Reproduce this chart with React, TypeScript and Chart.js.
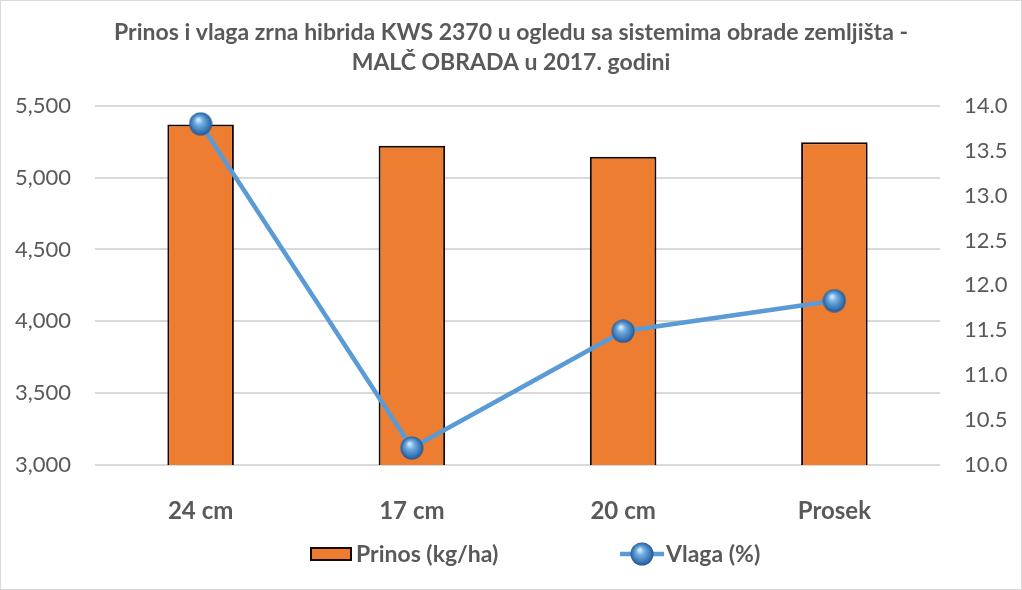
import { useEffect, useRef } from "react"
import { Chart, registerables } from "chart.js"

Chart.register(...registerables)

// data
const categories = ["24 cm", "17 cm", "20 cm", "Prosek"]
const prinosValues = [5370, 5222, 5145, 5246]
const vlagaValues = [13.8, 10.19, 11.49, 11.83]
const leftTicks = [3000, 3500, 4000, 4500, 5000, 5500]
const rightTicks = [10.0, 10.5, 11.0, 11.5, 12.0, 12.5, 13.0, 13.5, 14.0]

const titleLines = [
  "Prinos i vlaga zrna hibrida KWS 2370 u ogledu sa sistemima obrade zemljišta -",
  "MALČ OBRADA u 2017. godini",
]

const FONT = "Lato, 'Open Sans', sans-serif"
const TEXT = "#595959"
const BAR = "#ed7d31"
const BAR_EDGE = "#140800"
const LINE = "#5b9bd5"
const GRID = "#d9d9d9"

function makeSphere(d: number) {
  const c = document.createElement("canvas")
  c.width = d
  c.height = d
  const g = c.getContext("2d")!
  const r = d / 2
  const grad = g.createRadialGradient(r * 0.8, r * 0.65, r * 0.08, r, r, r)
  grad.addColorStop(0, "#cfe9fc")
  grad.addColorStop(0.3, "#6fade2")
  grad.addColorStop(0.75, "#3a76b4")
  grad.addColorStop(1, "#22508a")
  g.fillStyle = grad
  g.beginPath()
  g.arc(r, r, r - 0.5, 0, Math.PI * 2)
  g.fill()
  return c
}

// Excel-style legend drawn at the bottom
const legendPlugin = {
  id: "bottomLegend",
  afterDraw(chart: any, _args: any, opts: any) {
    const ctx = chart.ctx as CanvasRenderingContext2D
    const y = chart.height - 35
    const cx = chart.width / 2
    const ds = chart.data.datasets
    const barDs = ds.find((d: any) => d.type === "bar")
    const lineDs = ds.find((d: any) => d.type === "line")
    ctx.save()
    ctx.font = `bold 23px ${FONT}`
    ctx.textBaseline = "middle"
    ctx.textAlign = "left"

    let x = cx - 201
    ctx.fillStyle = BAR
    ctx.fillRect(x, y - 7, 42, 14)
    ctx.strokeStyle = BAR_EDGE
    ctx.lineWidth = 2
    ctx.strokeRect(x + 1, y - 6, 40, 12)
    ctx.fillStyle = TEXT
    ctx.fillText(barDs.label, x + 46, y + 1)

    x = cx + 109
    ctx.strokeStyle = LINE
    ctx.lineWidth = 4.5
    ctx.beginPath()
    ctx.moveTo(x, y)
    ctx.lineTo(x + 44, y)
    ctx.stroke()
    const s = opts.sphere as HTMLCanvasElement
    ctx.drawImage(s, x + 22 - s.width / 2, y - s.height / 2)
    ctx.fillStyle = TEXT
    ctx.fillText(lineDs.label, x + 46, y + 1)
    ctx.restore()
  },
}

export default function App() {
  const chartRef = useRef<HTMLCanvasElement>(null)
  const chartInstance = useRef<Chart | null>(null)

  useEffect(() => {
    document.body.style.margin = "0"
    if (!chartRef.current) return
    const ctx = chartRef.current.getContext("2d")
    if (!ctx) return

    if (chartInstance.current) {
      chartInstance.current.destroy()
    }

    const sphere = makeSphere(24)

    chartInstance.current = new Chart(ctx, {
      type: "bar",
      data: {
        labels: categories,
        datasets: [
          {
            type: "line",
            label: "Vlaga (%)",
            data: vlagaValues,
            yAxisID: "y1",
            borderColor: LINE,
            borderWidth: 4.5,
            pointStyle: sphere,
            pointRadius: 12,
            tension: 0,
            order: 0,
          } as any,
          {
            type: "bar",
            label: "Prinos (kg/ha)",
            data: prinosValues,
            yAxisID: "y",
            backgroundColor: BAR,
            borderColor: BAR_EDGE,
            borderWidth: 2,
            categoryPercentage: 1,
            barPercentage: 0.315,
            order: 1,
          },
        ],
      },
      options: {
        animation: false,
        responsive: true,
        maintainAspectRatio: false,
        layout: { padding: { left: 0, right: 0, top: 0, bottom: 64 } },
        plugins: {
          legend: { display: false },
          tooltip: { enabled: false },
          title: {
            display: true,
            text: titleLines,
            color: TEXT,
            font: { family: FONT, size: 23, weight: "bold", lineHeight: 1.3 },
            padding: { top: 17, bottom: 28 },
          },
          bottomLegend: { sphere },
        } as any,
        scales: {
          x: {
            grid: { display: false },
            border: { display: false },
            ticks: {
              color: TEXT,
              font: { family: FONT, size: 24, weight: "bold" },
              padding: 24,
            },
            afterFit: (scale: any) => {
              scale.height = 60
            },
          },
          y: {
            position: "left",
            min: leftTicks[0],
            max: leftTicks[leftTicks.length - 1],
            grid: { color: GRID, lineWidth: 2, drawTicks: false },
            border: { display: false },
            ticks: {
              stepSize: leftTicks[1] - leftTicks[0],
              color: TEXT,
              font: { family: FONT, size: 22 },
              padding: 24,
              callback: (v: any) => Number(v).toLocaleString("en-US"),
            },
            afterFit: (scale: any) => {
              scale.width = 94
            },
          },
          y1: {
            position: "right",
            min: rightTicks[0],
            max: rightTicks[rightTicks.length - 1],
            grid: { display: false, drawTicks: false },
            border: { display: false },
            ticks: {
              stepSize: rightTicks[1] - rightTicks[0],
              color: TEXT,
              font: { family: FONT, size: 22 },
              padding: 24,
              callback: (v: any) => Number(v).toFixed(1),
            },
            afterFit: (scale: any) => {
              scale.width = 81
            },
          },
        },
      },
      plugins: [legendPlugin],
    })

    return () => {
      if (chartInstance.current) {
        chartInstance.current.destroy()
        chartInstance.current = null
      }
    }
  }, [])

  return (
    <div
      style={{
        width: 1022,
        height: 590,
        boxSizing: "border-box",
        border: "1px solid #d9d9d9",
        background: "#fff",
        position: "relative",
      }}
    >
      <canvas ref={chartRef} />
    </div>
  )
}
